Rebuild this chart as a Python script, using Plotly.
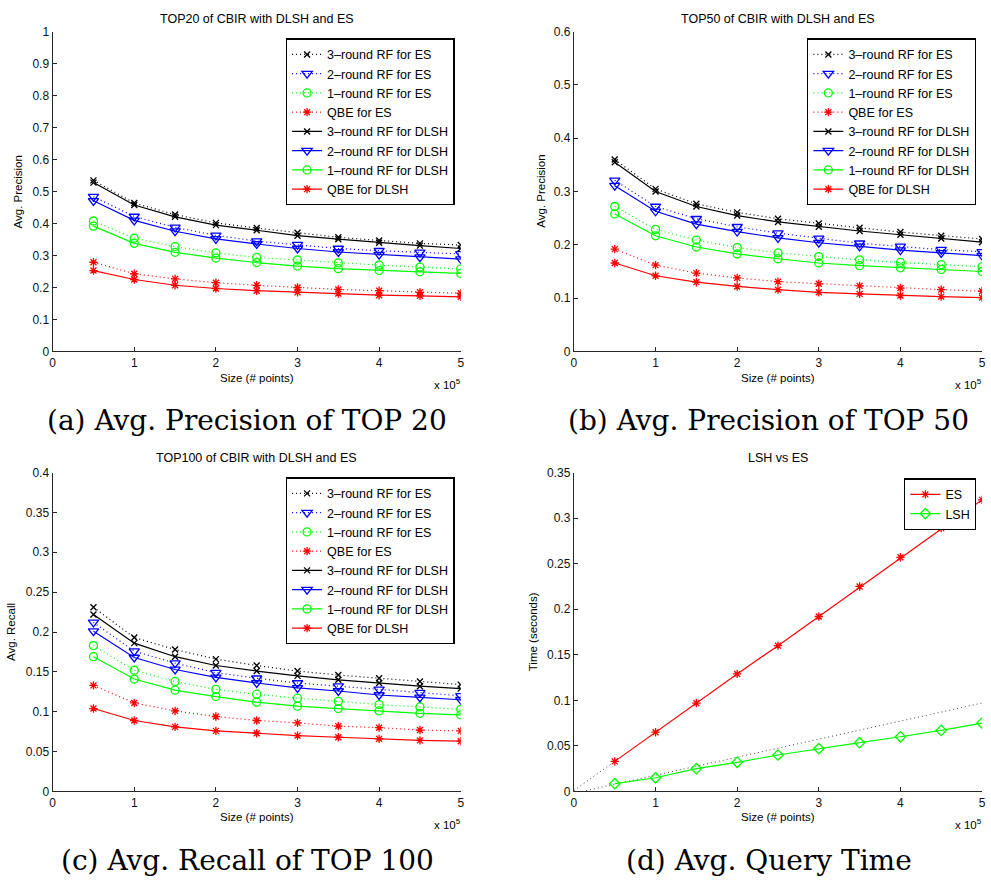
import plotly.graph_objects as go

W, H = 991, 889

# ---------------- data ----------------
sizes = [50000, 100000, 150000, 200000, 250000, 300000, 350000, 400000, 450000, 500000]
x_tickvals = [0, 100000, 200000, 300000, 400000, 500000]
x_ticktext = ["0", "1", "2", "3", "4", "5"]

series_names = ["3–round RF for ES", "2–round RF for ES", "1–round RF for ES", "QBE for ES",
                "3–round RF for DLSH", "2–round RF for DLSH", "1–round RF for DLSH", "QBE for DLSH"]

# (a) Avg. Precision of TOP 20
top20_rf3_es = [0.535, 0.464, 0.428, 0.402, 0.386, 0.371, 0.357, 0.347, 0.338, 0.333]
top20_rf2_es = [0.484, 0.422, 0.388, 0.363, 0.345, 0.334, 0.322, 0.315, 0.310, 0.305]
top20_rf1_es = [0.408, 0.354, 0.328, 0.308, 0.294, 0.286, 0.277, 0.270, 0.264, 0.258]
top20_qbe_es = [0.279, 0.243, 0.227, 0.215, 0.207, 0.200, 0.194, 0.190, 0.185, 0.182]
top20_rf3_dlsh = [0.528, 0.458, 0.421, 0.395, 0.379, 0.362, 0.351, 0.340, 0.331, 0.322]
top20_rf2_dlsh = [0.471, 0.410, 0.376, 0.352, 0.336, 0.322, 0.311, 0.303, 0.295, 0.289]
top20_rf1_dlsh = [0.392, 0.338, 0.310, 0.292, 0.278, 0.267, 0.259, 0.253, 0.249, 0.244]
top20_qbe_dlsh = [0.253, 0.225, 0.207, 0.197, 0.190, 0.185, 0.181, 0.176, 0.174, 0.171]

# (b) Avg. Precision of TOP 50
top50_rf3_es = [0.360, 0.305, 0.277, 0.261, 0.249, 0.240, 0.232, 0.224, 0.217, 0.211]
top50_rf2_es = [0.321, 0.272, 0.249, 0.234, 0.222, 0.212, 0.203, 0.197, 0.191, 0.187]
top50_rf1_es = [0.272, 0.229, 0.209, 0.195, 0.185, 0.178, 0.172, 0.167, 0.163, 0.159]
top50_qbe_es = [0.192, 0.162, 0.147, 0.138, 0.131, 0.127, 0.123, 0.119, 0.116, 0.113]
top50_rf3_dlsh = [0.355, 0.300, 0.272, 0.255, 0.243, 0.234, 0.226, 0.219, 0.212, 0.205]
top50_rf2_dlsh = [0.311, 0.263, 0.239, 0.225, 0.213, 0.204, 0.197, 0.190, 0.185, 0.180]
top50_rf1_dlsh = [0.258, 0.217, 0.196, 0.183, 0.174, 0.166, 0.161, 0.157, 0.154, 0.150]
top50_qbe_dlsh = [0.166, 0.142, 0.130, 0.122, 0.116, 0.111, 0.108, 0.105, 0.103, 0.101]

# (c) Avg. Recall of TOP 100
top100_rf3_es = [0.231, 0.193, 0.178, 0.166, 0.158, 0.151, 0.146, 0.142, 0.138, 0.134]
top100_rf2_es = [0.212, 0.176, 0.161, 0.149, 0.142, 0.136, 0.132, 0.128, 0.124, 0.120]
top100_rf1_es = [0.183, 0.152, 0.138, 0.128, 0.122, 0.117, 0.113, 0.109, 0.106, 0.103]
top100_qbe_es = [0.133, 0.111, 0.101, 0.094, 0.089, 0.086, 0.082, 0.080, 0.077, 0.076]
top100_rf3_dlsh = [0.222, 0.186, 0.169, 0.158, 0.151, 0.145, 0.140, 0.136, 0.132, 0.129]
top100_rf2_dlsh = [0.201, 0.168, 0.153, 0.143, 0.136, 0.130, 0.126, 0.121, 0.118, 0.115]
top100_rf1_dlsh = [0.169, 0.141, 0.127, 0.119, 0.112, 0.107, 0.104, 0.101, 0.098, 0.096]
top100_qbe_dlsh = [0.104, 0.089, 0.081, 0.076, 0.073, 0.070, 0.068, 0.066, 0.064, 0.063]

# (d) Avg. Query Time (seconds)
time_es = [0.033, 0.065, 0.097, 0.129, 0.160, 0.192, 0.225, 0.257, 0.289, 0.320]
time_lsh = [0.0085, 0.015, 0.025, 0.032, 0.040, 0.047, 0.0535, 0.060, 0.067, 0.075]
es_trend_x = [0, 50000]
es_trend_y = [0.001, 0.033]
lsh_trend_x = [10000, 500000]
lsh_trend_y = [0.0, 0.097]

# ---------------- styling ----------------
BLACK, BLUE, GREEN, RED = "#000000", "#0000FF", "#00FF00", "#FF0000"
DOT = "1px,3px"
styles = [
    dict(color=BLACK, symbol="x-thin-open", size=6, dash=DOT),
    dict(color=BLUE, symbol="triangle-down-open", size=9, dash=DOT),
    dict(color=GREEN, symbol="circle-open", size=8, dash=DOT),
    dict(color=RED, symbol="asterisk-open", size=7, dash=DOT),
    dict(color=BLACK, symbol="x-thin-open", size=6, dash="solid"),
    dict(color=BLUE, symbol="triangle-down-open", size=9, dash="solid"),
    dict(color=GREEN, symbol="circle-open", size=8, dash="solid"),
    dict(color=RED, symbol="asterisk-open", size=7, dash="solid"),
]

fig = go.Figure()

def add_panel(values, xa, ya, legend_name):
    for name, vals, st in zip(series_names, values, styles):
        fig.add_trace(go.Scatter(
            x=sizes, y=vals, name=name, mode="lines+markers",
            line=dict(color=st["color"], width=1.2, dash=st["dash"]),
            marker=dict(symbol=st["symbol"], size=st["size"], color=st["color"],
                        line=dict(color=st["color"], width=1.3)),
            xaxis=xa, yaxis=ya, legend=legend_name))

add_panel([top20_rf3_es, top20_rf2_es, top20_rf1_es, top20_qbe_es,
           top20_rf3_dlsh, top20_rf2_dlsh, top20_rf1_dlsh, top20_qbe_dlsh], "x", "y", "legend")
add_panel([top50_rf3_es, top50_rf2_es, top50_rf1_es, top50_qbe_es,
           top50_rf3_dlsh, top50_rf2_dlsh, top50_rf1_dlsh, top50_qbe_dlsh], "x2", "y2", "legend2")
add_panel([top100_rf3_es, top100_rf2_es, top100_rf1_es, top100_qbe_es,
           top100_rf3_dlsh, top100_rf2_dlsh, top100_rf1_dlsh, top100_qbe_dlsh], "x3", "y3", "legend3")

# (d)
fig.add_trace(go.Scatter(x=es_trend_x, y=es_trend_y, mode="lines", showlegend=False,
                         line=dict(color="#444444", width=1, dash=DOT), xaxis="x4", yaxis="y4"))
fig.add_trace(go.Scatter(x=lsh_trend_x, y=lsh_trend_y, mode="lines", showlegend=False,
                         line=dict(color="#444444", width=1, dash=DOT), xaxis="x4", yaxis="y4"))
fig.add_trace(go.Scatter(x=sizes, y=time_es, name="ES", mode="lines+markers",
                         line=dict(color=RED, width=1.2),
                         marker=dict(symbol="asterisk-open", size=7, color=RED, line=dict(color=RED, width=1.3)),
                         xaxis="x4", yaxis="y4", legend="legend4"))
fig.add_trace(go.Scatter(x=sizes, y=time_lsh, name="LSH", mode="lines+markers",
                         line=dict(color=GREEN, width=1.2),
                         marker=dict(symbol="diamond-open", size=8, color=GREEN, line=dict(color=GREEN, width=1.3)),
                         xaxis="x4", yaxis="y4", legend="legend4"))

# ---------------- layout ----------------
def px_x(p):
    return p / W

def px_y(p):
    return 1 - p / H

AX_COLOR = "#262626"
TICK_FONT = dict(family="Liberation Sans, Arial, sans-serif", size=12, color="#111111")

def xaxis(left, right, anchor):
    return dict(domain=[px_x(left), px_x(right)], range=[0, 500000], anchor=anchor,
                tickvals=x_tickvals, ticktext=x_ticktext, ticks="inside", ticklen=4,
                tickcolor=AX_COLOR, showline=True, linecolor=AX_COLOR, linewidth=1.3,
                showgrid=False, zeroline=False, tickfont=TICK_FONT, mirror=False)

def yaxis(top, bottom, anchor, ymax, dtick):
    return dict(domain=[px_y(bottom), px_y(top)], range=[0, ymax], anchor=anchor,
                dtick=dtick, tick0=0, ticks="inside", ticklen=4,
                tickcolor=AX_COLOR, showline=True, linecolor=AX_COLOR, linewidth=1.3,
                showgrid=False, zeroline=False, tickfont=TICK_FONT, mirror=False)

LEFT_A, RIGHT_A = 50, 461
LEFT_B, RIGHT_B = 575, 986
TOP_1, BOT_1 = 25, 350
TOP_2, BOT_2 = 473, 797

legend_style = dict(bgcolor="white", bordercolor="black", borderwidth=1.3,
                    font=dict(family="Liberation Sans, Arial, sans-serif", size=12.5, color="black"),
                    xanchor="right", yanchor="top", traceorder="normal", tracegroupgap=0)

fig.update_layout(
    width=W, height=H,
    margin=dict(l=0, r=0, t=0, b=0),
    paper_bgcolor="white", plot_bgcolor="white",
    xaxis=xaxis(LEFT_A, RIGHT_A, "y"),
    yaxis=yaxis(TOP_1, BOT_1, "x", 1.0, 0.1),
    xaxis2=xaxis(LEFT_B, RIGHT_B, "y2"),
    yaxis2=yaxis(TOP_1, BOT_1, "x2", 0.6, 0.1),
    xaxis3=xaxis(LEFT_A, RIGHT_A, "y3"),
    yaxis3=yaxis(TOP_2, BOT_2, "x3", 0.4, 0.05),
    xaxis4=xaxis(LEFT_B, RIGHT_B, "y4"),
    yaxis4=yaxis(TOP_2, BOT_2, "x4", 0.35, 0.05),
    legend=dict(x=px_x(455), y=px_y(32), **legend_style),
    legend2=dict(x=px_x(980), y=px_y(32), **legend_style),
    legend3=dict(x=px_x(455), y=px_y(478), **legend_style),
    legend4=dict(x=px_x(980), y=px_y(479), **legend_style),
    showlegend=True,
)

TITLE_F = dict(family="Liberation Sans, Arial, sans-serif", size=12.5, color="black")
LABEL_F = dict(family="Liberation Sans, Arial, sans-serif", size=11.5, color="black")
CAP = dict(family="DejaVu Serif, serif", size=28, color="black")

def ann(text, xp, yp, font, xanchor="center", yanchor="middle", angle=0):
    fig.add_annotation(text=text, x=px_x(xp), y=px_y(yp), xref="paper", yref="paper",
                       showarrow=False, font=font, xanchor=xanchor, yanchor=yanchor,
                       textangle=angle)

cx_a = (LEFT_A + RIGHT_A) / 2
cx_b = (LEFT_B + RIGHT_B) / 2

# titles
ann("TOP20 of CBIR with DLSH and ES", cx_a, 12, TITLE_F)
ann("TOP50 of CBIR with DLSH and ES", cx_b, 12, TITLE_F)
ann("TOP100 of CBIR with DLSH and ES", cx_a, 458, TITLE_F)
ann("LSH vs ES", cx_b, 458, TITLE_F)

# x labels
ann("Size (# points)", cx_a, 377, LABEL_F)
ann("Size (# points)", cx_b, 377, LABEL_F)
ann("Size (# points)", cx_a, 823, LABEL_F)
ann("Size (# points)", cx_b, 823, LABEL_F)

# exponent labels
for xr, yy in [(463, 383), (988, 383), (463, 830), (988, 830)]:
    ann("x 10<sup>5</sup>", xr, yy, LABEL_F, xanchor="right")

# y labels
ann("Avg. Precision", 15, (TOP_1 + BOT_1) / 2, LABEL_F, angle=-90)
ann("Avg. Precision", 541, (TOP_1 + BOT_1) / 2, LABEL_F, angle=-90)
ann("Avg. Recall", 8, (TOP_2 + BOT_2) / 2, LABEL_F, angle=-90)
ann("Time (seconds)", 534, (TOP_2 + BOT_2) / 2, LABEL_F, angle=-90)

# captions
ann("(a) Avg. Precision of TOP 20", 246, 420, CAP)
ann("(b) Avg. Precision of TOP 50", 771, 420, CAP)
ann("(c) Avg. Recall of TOP 100", 246, 867, CAP)
ann("(d) Avg. Query Time", 771, 867, CAP)

fig.write_html("out.html", config={"displayModeBar": False},
               post_script="document.body.style.margin='0';document.body.style.overflow='hidden';")
